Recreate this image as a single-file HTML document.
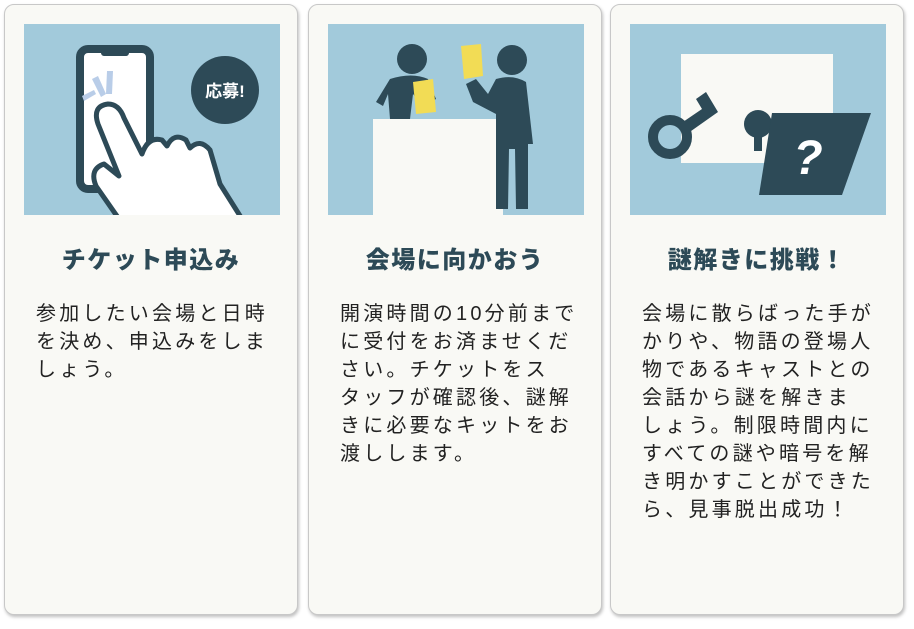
<!DOCTYPE html>
<html><head><meta charset="utf-8"><style>
body{margin:0;width:914px;height:629px;background:#fff;font-family:"Liberation Sans","Noto Sans CJK JP",sans-serif;position:relative;overflow:hidden}
.card{position:absolute;top:4px;width:292px;height:609px;background:#f9f9f5;border:1px solid #c8c8c8;border-radius:10px;box-shadow:1px 2px 3px rgba(0,0,0,.25)}
.img{position:absolute;left:19px;top:19px;width:256px;height:191px;background:#a2cadb;overflow:hidden}
.t{position:absolute;top:235px;left:0;width:100%;text-align:center;font-size:24px;font-weight:900;color:#2d4a57;letter-spacing:1.5px}
.b{position:absolute;top:295px;left:31px;width:260px;font-size:20px;line-height:28px;letter-spacing:3.2px;color:#222;white-space:nowrap}
</style></head><body>
<div class="card" style="left:4px">
 <div class="img"><svg width="256" height="191">
  <rect x="56" y="25" width="70" height="140" rx="8" fill="#fff" stroke="#2d4a57" stroke-width="8"/>
  <rect x="77" y="25" width="28" height="7" rx="3" fill="#2d4a57"/>
  <polygon points="58,72 70,66 72,70 60,77" fill="#b9cde8"/>
  <polygon points="68,55 74,52 82,70 77,73" fill="#b9cde8"/>
  <polygon points="83,47 89,47 88,70 82,70" fill="#b9cde8"/>
  <path d="M95,195 L72,162 Q65,145 80,140 L95,152 L74,100 Q68,82 84,80 Q95,80 100,94 L118,130 Q124,112 138,116 L143,122 Q150,108 162,116 L166,124 Q176,114 186,126 L196,160 L218,195 Z" fill="#fff" stroke="#2d4a57" stroke-width="5" stroke-linejoin="round"/>
  <circle cx="201" cy="66" r="34" fill="#2d4a57"/>
  <text x="201" y="73" text-anchor="middle" font-size="17" font-weight="bold" fill="#fff">応募!</text>
 </svg></div>
 <div class="t">チケット申込み</div>
 <div class="b">参加したい会場と日時<br>を決め、申込みをしま<br>しょう。</div>
</div>
<div class="card" style="left:308px">
 <div class="img"><svg width="256" height="191">
  <rect x="45" y="95" width="130" height="96" fill="#f9f9f5"/>
  <circle cx="84" cy="35" r="15" fill="#2d4a57"/>
  <path d="M62,55 Q84,48 100,55 L108,75 L95,82 L85,70 L82,95 L62,95 L60,70 L55,82 L48,78 Z" fill="#2d4a57"/>
  <polygon points="85,58 105,55 108,88 88,90" fill="#f2dc55"/>
  <polygon points="133,22 153,20 155,52 136,55" fill="#f2dc55"/>
  <circle cx="184" cy="36" r="15" fill="#2d4a57"/>
  <path d="M168,55 Q185,50 198,58 L205,120 L200,120 L200,185 L188,185 L187,125 L181,125 L180,185 L168,185 L168,90 L145,78 L138,60 L148,55 L160,70 Z" fill="#2d4a57"/>
 </svg></div>
 <div class="t">会場に向かおう</div>
 <div class="b">開演時間の10分前まで<br>に受付をお済ませくだ<br>さい。チケットをス<br>タッフが確認後、謎解<br>きに必要なキットをお<br>渡しします。</div>
</div>
<div class="card" style="left:610px">
 <div class="img"><svg width="256" height="191">
  <rect x="51" y="30" width="152" height="109" fill="#f9f9f5"/>
  <circle cx="128" cy="100" r="14" fill="#2d4a57"/>
  <rect x="124" y="105" width="8" height="22" fill="#2d4a57"/>
  <circle cx="40" cy="113" r="17" fill="none" stroke="#2d4a57" stroke-width="10"/>
  <polygon points="50,100 72,85 66,75 76,68 88,88 54,112" fill="#2d4a57"/>
  <polygon points="142,89 241,89 212,171 129,171" fill="#2d4a57"/>
  <text x="178" y="150" text-anchor="middle" font-size="48" font-weight="bold" font-style="italic" fill="#fff">?</text>
 </svg></div>
 <div class="t">謎解きに挑戦！</div>
 <div class="b">会場に散らばった手が<br>かりや、物語の登場人<br>物であるキャストとの<br>会話から謎を解きま<br>しょう。制限時間内に<br>すべての謎や暗号を解<br>き明かすことができた<br>ら、見事脱出成功！</div>
</div>
</body></html>
